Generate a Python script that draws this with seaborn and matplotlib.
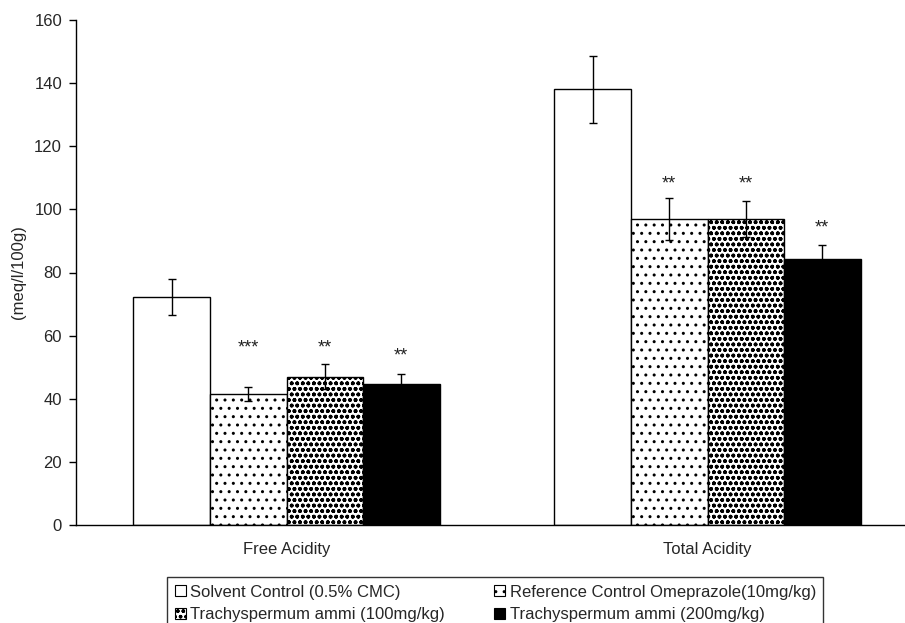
import matplotlib
matplotlib.use("Agg")
import matplotlib.pyplot as plt
import seaborn as sns
import pandas as pd
import numpy as np
from matplotlib.patches import Patch

categories = ["Free Acidity", "Total Acidity"]
groups = ["Solvent Control (0.5% CMC)",
          "Reference Control Omeprazole(10mg/kg)",
          "Trachyspermum ammi (100mg/kg)",
          "Trachyspermum ammi (200mg/kg)"]
free_vals = [72.2, 41.5, 47.0, 44.6]
total_vals = [138.0, 97.0, 97.0, 84.2]
free_err = [5.6, 2.2, 4.0, 3.2]
total_err = [10.6, 6.6, 5.6, 4.6]
free_sig = ["", "***", "**", "**"]
total_sig = ["", "**", "**", "**"]
free_sig_y = [None, 56.0, 56.0, 53.5]
total_sig_y = [None, 108.2, 108.2, 94.0]
yticks = [0, 20, 40, 60, 80, 100, 120, 140, 160]

sns.set_style("white")
plt.rcParams['font.family'] = ['Liberation Sans', 'DejaVu Sans']

rows = []
for g, fv, tv in zip(groups, free_vals, total_vals):
    rows.append({"cat": categories[0], "grp": g, "val": fv})
    rows.append({"cat": categories[1], "grp": g, "val": tv})
df = pd.DataFrame(rows)

fig = plt.figure(figsize=(9.05, 6.23), dpi=100)
ax = fig.add_axes([76/905, 1-525/623, (918-76)/905, (525-20)/623])

palette = {groups[0]: "white", groups[1]: "white", groups[2]: "white", groups[3]: "black"}
sns.barplot(data=df, x="cat", y="val", hue="grp", hue_order=groups, order=categories,
            palette=palette, width=0.727, gap=0, errorbar=None, ax=ax,
            edgecolor="black", linewidth=1.0, legend=False, saturation=1)

hatches = [None, "..", "ooo", None]
hlw = [None, 1.0, 1.15, None]
errs = [free_err, total_err]
sigs = [free_sig, total_sig]
sigy = [free_sig_y, total_sig_y]
vals = [free_vals, total_vals]

bar_containers = list(ax.containers)[:len(groups)]
for gi, cont in enumerate(bar_containers):
    for ci, bar in enumerate(cont):
        if hatches[gi]:
            bar.set_hatch(hatches[gi])
            try:
                bar.set_hatch_linewidth(hlw[gi])
            except Exception:
                pass
        xc = bar.get_x() + bar.get_width()/2
        ax.errorbar(xc, vals[ci][gi], yerr=errs[ci][gi], fmt="none", ecolor="black",
                    elinewidth=1.0, capsize=3, capthick=1.0, zorder=5)
        if sigs[ci][gi]:
            ax.text(xc, sigy[ci][gi], sigs[ci][gi], ha="center", va="center",
                    fontsize=13, color="#222222")

ax.set_ylim(0, 160)
ax.set_xlim(-0.5, 1.5)
ax.set_yticks(yticks)
ax.set_yticklabels([str(t) for t in yticks], fontsize=12)
ax.set_xticks([0, 1])
ax.set_xticklabels(categories, fontsize=12)
ax.set_xticks([-0.5, 0.5, 1.5], minor=True)
ax.tick_params(axis="x", which="major", length=0, pad=12)
ax.tick_params(axis="x", which="minor", length=5, width=1, color="black", direction="out")
ax.tick_params(axis="y", length=5, width=1, color="black", direction="out", left=True, pad=5)
for s in ["top", "right"]:
    ax.spines[s].set_visible(False)
for s in ["left", "bottom"]:
    ax.spines[s].set_color("black")
    ax.spines[s].set_linewidth(1.0)
ax.set_xlabel("")
ax.set_ylabel("(meq/l/100g)", fontsize=12)
ax.yaxis.set_label_coords((26-76)/842, 0.5)

handles = []
for gi, g in enumerate(groups):
    p = Patch(facecolor=palette[g], edgecolor="black", linewidth=0.8, hatch=hatches[gi], label=g)
    handles.append(p)
order = [0, 2, 1, 3]
leg = fig.legend(handles=[handles[i] for i in order], loc="upper left",
                 bbox_to_anchor=(167/905, 1-577/623),
                 ncol=2, fontsize=12, frameon=True, fancybox=False, edgecolor="black",
                 handlelength=0.66, handleheight=0.66, handletextpad=0.3, columnspacing=2.9,
                 borderpad=0.45, labelspacing=0.45, borderaxespad=0)
leg.get_frame().set_linewidth(1.0)

fig.savefig("out.png", dpi=100)
